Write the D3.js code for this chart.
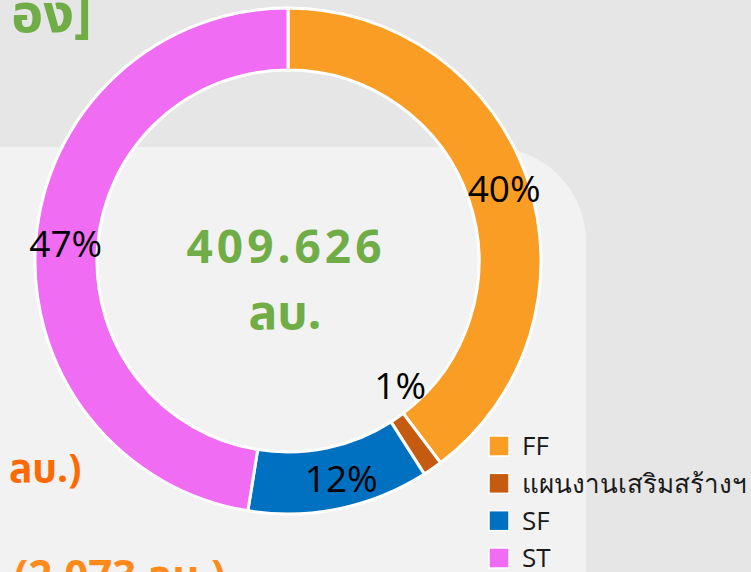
<!DOCTYPE html>
<html><head><meta charset="utf-8">
<script src="https://cdn.jsdelivr.net/npm/d3@7"></script>
<style>
html,body{margin:0;padding:0;background:#e6e6e6;}
svg{display:block;}
</style></head>
<body>
<svg id="chart" width="751" height="572"></svg>
<script>
const categories = ["FF", "แผนงานเสริมสร้างฯ", "SF", "ST"];
const values = [162.6, 5.1, 47.5, 194.426];
const colors = ["#f99d25", "#c55a11", "#0070c0", "#f06cf2"];
const totalLabel = ["409.626", "ลบ."];

const svg = d3.select("#chart");
const W = 751, H = 572;

// background panel with rounded top-right corner
const px0 = -10, py0 = 147, px1 = 586, rr = 95;
svg.append("path")
  .attr("d", `M${px0},${py0} H${px1 - rr} A${rr},${rr} 0 0 1 ${px1},${py0 + rr} V${H + 10} H${px0} Z`)
  .attr("fill", "#f2f2f2");

// partial slide texts
svg.append("text").attr("x", 92).attr("y", 32)
  .attr("text-anchor", "end")
  .style("font-family", "'Noto Sans Thai','Noto Sans',sans-serif")
  .style("font-weight", "bold").style("font-size", "54px")
  .attr("fill", "#70ad47").text("อง]");
svg.append("text").attr("x", 9).attr("y", 482)
  .style("font-family", "'Noto Sans Thai','Noto Sans',sans-serif")
  .style("font-weight", "bold").style("font-size", "39px")
  .attr("fill", "#fd6a02").text("ลบ.)");
svg.append("text").attr("x", 14).attr("y", 590)
  .style("font-family", "'Noto Sans Thai','Noto Sans',sans-serif")
  .style("font-weight", "bold").style("font-size", "42px")
  .attr("fill", "#fd8a1a").text("(2,073 ลบ.)");

const cx = 288, cy = 261, rOut = 253, rIn = 191;
const g = svg.append("g").attr("transform", `translate(${cx},${cy})`);

const data = categories.map((c, i) => ({ name: c, value: values[i], color: colors[i] }));
const total = d3.sum(values);
const pie = d3.pie().value(d => d.value).sort(null);
const arcs = pie(data);
const arc = d3.arc().innerRadius(rIn).outerRadius(rOut);

g.selectAll("path.slice").data(arcs).enter().append("path")
  .attr("class", "slice")
  .attr("d", arc)
  .attr("fill", d => d.data.color)
  .attr("stroke", "#ffffff").attr("stroke-width", 3);

// label placement (radius, angle offset in degrees)
const labelPos = [[228, 0], [168, -7], [224, -2], [223, 0]];
const fmt = d3.format(".0%");
g.selectAll("text.lbl").data(arcs).enter().append("text")
  .attr("class", "lbl")
  .attr("transform", (d, i) => {
    const a = (d.startAngle + d.endAngle) / 2 + labelPos[i][1] * Math.PI / 180;
    const r = labelPos[i][0];
    return `translate(${r * Math.sin(a)},${-r * Math.cos(a)})`;
  })
  .attr("text-anchor", "middle").attr("dy", "0.36em")
  .style("font-family", "'Open Sans','Noto Sans',sans-serif")
  .style("font-size", "37px").attr("fill", "#000")
  .text(d => fmt(d.value / total));

// centre total
g.append("text").attr("x", -2).attr("y", 2)
  .attr("text-anchor", "middle")
  .style("font-family", "'Noto Sans Thai','Noto Sans',sans-serif")
  .style("font-weight", "bold").style("font-size", "46px").style("letter-spacing", "4px")
  .attr("fill", "#70ad47").text(totalLabel[0]);
g.append("text").attr("x", -3).attr("y", 68)
  .attr("text-anchor", "middle")
  .style("font-family", "'Noto Sans Thai','Noto Sans',sans-serif")
  .style("font-weight", "bold").style("font-size", "48px")
  .attr("fill", "#70ad47").text(totalLabel[1]);

// legend
const ly = d3.scalePoint().domain(categories).range([446, 558]);
const leg = svg.append("g");
const items = leg.selectAll("g").data(data).enter().append("g")
  .attr("transform", d => `translate(489,${ly(d.name)})`);
items.append("rect").attr("x", 0).attr("y", -10).attr("width", 20).attr("height", 20)
  .attr("fill", d => d.color).attr("stroke", "#ffffff").attr("stroke-width", 1.5);
items.append("text").attr("x", 33).attr("y", 0).attr("dy", "0.36em")
  .style("font-family", "'Open Sans','Noto Sans',sans-serif")
  .style("font-size", "26px").attr("fill", "#1a1a1a")
  .text(d => d.name);
</script>
</body></html>
